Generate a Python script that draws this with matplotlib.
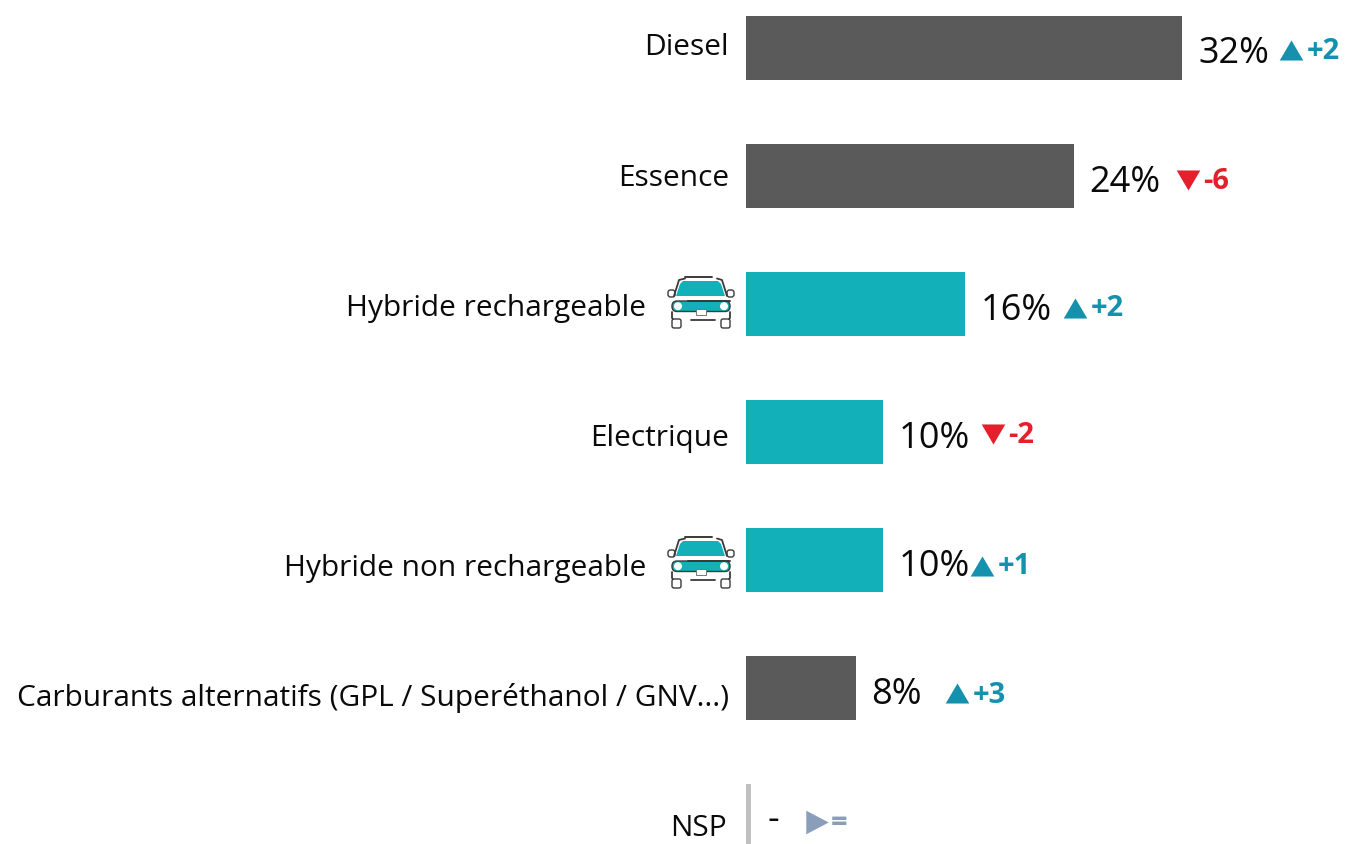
import matplotlib
matplotlib.use("Agg")
import matplotlib.pyplot as plt
from matplotlib.patches import Polygon, FancyBboxPatch, Circle, Rectangle
from matplotlib.transforms import Affine2D

categories = ["Diesel", "Essence", "Hybride rechargeable", "Electrique",
              "Hybride non rechargeable",
              "Carburants alternatifs (GPL / Superéthanol / GNV...)", "NSP"]
values = [31.95, 24.05, 16.05, 10.05, 10.05, 8.05, 0]
value_labels = ["32%", "24%", "16%", "10%", "10%", "8%", "-"]
deltas = ["+2", "-6", "+2", "-2", "+1", "+3", "="]
highlighted = ["Hybride rechargeable", "Electrique", "Hybride non rechargeable"]

W, H = 1348, 844
PX_PER_PCT = 13.65
X0, Y0, ROW = 746, 48, 128
GREY, TEAL, BLUE, RED, SLATE = "#5a5a5a", "#12b0b8", "#1591ad", "#e3202c", "#8a9dbb"
INK = "#0a0a0a"

plt.rcParams["font.family"] = ["Open Sans", "DejaVu Sans"]
fig = plt.figure(figsize=(W / 100, H / 100), dpi=100)
ax = fig.add_axes([0, 0, 1, 1])
ax.set_xlim(-X0 / PX_PER_PCT, (W - X0) / PX_PER_PCT)
ax.set_ylim((H - Y0) / ROW, -Y0 / ROW)
ax.axis("off")

dx = lambda px: (px - X0) / PX_PER_PCT
dy = lambda py: (py - Y0) / ROW

# layout (pixels)
label_right = [729, 729, 646, 729, 646, 729, 727]
label_base = [55, 186, 316, 446, 576, 706, 836]
value_left = [1198, 1089, 981, 899, 899, 871, 767]
value_base = [63, 192, 320, 448, 576, 704, 830]
tri_x = [1291, 1188, 1075, 993, 982, 957, 817]
tri_y = [50, 180, 308, 434, 566, 693, 822]
delta_left = [1307, 1203, 1091, 1008, 998, 973, 831]
delta_base = [59, 189, 316, 443, 574, 703, 831]

UP_M = [(-1, -0.85), (1, -0.85), (0, 0.85)]
DOWN_M = [(-1, 0.85), (1, 0.85), (0, -0.85)]
RIGHT_M = [(-0.95, -1), (-0.95, 1), (0.95, 0)]

for i, (c, v) in enumerate(zip(categories, values)):
    if c == "NSP":
        ax.barh(i, 0.37, height=0.5, left=v, color="#c0c0c0")
    else:
        ax.barh(i, v, height=0.5, color=TEAL if c in highlighted else GREY)
    ax.text(dx(label_right[i]), dy(label_base[i]), c, ha="right", va="baseline",
            fontsize=21.5, color=INK)
    ax.text(dx(value_left[i]), dy(value_base[i]), value_labels[i], ha="left", va="baseline",
            fontsize=26, color=INK)
    d = deltas[i]
    marker, col = (UP_M, BLUE) if d.startswith("+") else ((DOWN_M, RED) if d.startswith("-") else (RIGHT_M, SLATE))
    ax.plot([dx(tri_x[i])], [dy(tri_y[i])], marker=marker, ms=17, color=col, mew=0, ls="none")
    ax.text(dx(delta_left[i]), dy(delta_base[i]), d, ha="left", va="baseline",
            fontsize=21, fontweight="bold", color=col)


def car(ox, oy):
    """Car icon, local pixel coordinates relative to (ox, oy)."""
    tr = Affine2D().translate(ox, oy).scale(1, -1).translate(0, H)
    ink = "#3a3a3a"
    def add(p):
        p.set_transform(tr)
        p.set_clip_on(False)
        fig.add_artist(p)
    def line(xs, ys, lw=1.3):
        l = plt.Line2D(xs, ys, color=ink, lw=lw, transform=tr, solid_capstyle="round")
        fig.add_artist(l)
    add(Polygon([(26, 36), (30, 24), (33, 21), (68, 21), (71, 24), (75, 36)], closed=True, fc=TEAL, ec="none"))
    add(FancyBboxPatch((22, 41), 58, 10.5, boxstyle="round,pad=0,rounding_size=5", fc=TEAL, ec=ink, lw=1.0))
    add(Circle((28, 46.2), 4.0, fc="white", ec="none"))
    add(Circle((74, 46.2), 4.0, fc="white", ec="none"))
    add(Rectangle((46, 49), 10, 5.5, fc="white", ec="#777777", lw=0.7))
    line([35, 62], [17, 17], 1.4)
    line([38, 80], [40.5, 40.5], 1.4)
    line([24, 29, 35], [36, 20, 18.5])
    line([67, 72, 77], [18.5, 20, 36])
    line([22, 22, 23], [52, 58, 59])
    line([80, 80, 79], [52, 58, 59])
    line([41, 65], [60, 60])
    for wx in (22, 71):
        add(FancyBboxPatch((wx, 59), 9, 9, boxstyle="round,pad=0,rounding_size=2", fc="white", ec=ink, lw=1.0))
    for mx in (18, 77):
        add(FancyBboxPatch((mx, 30), 7, 7, boxstyle="round,pad=0,rounding_size=2.5", fc="white", ec=ink, lw=1.0))


car(650, 260)
car(650, 520)

fig.savefig("out.png", dpi=100)
